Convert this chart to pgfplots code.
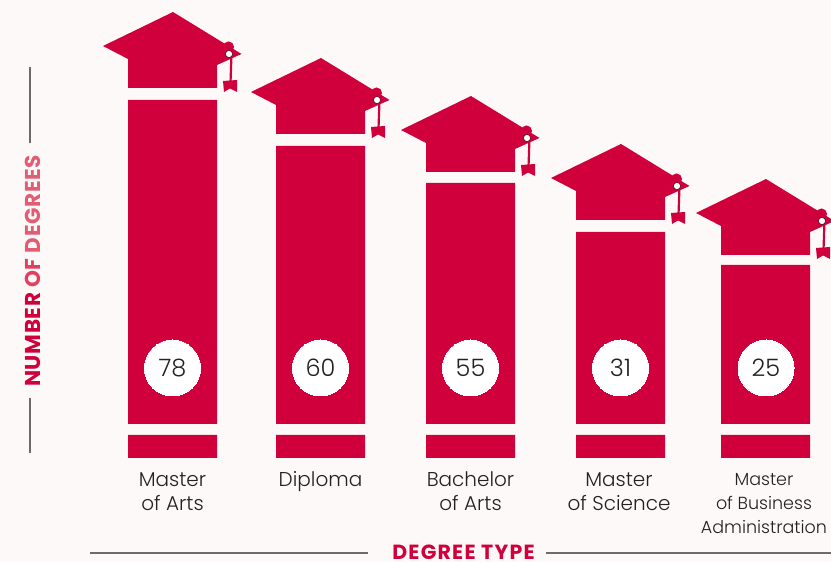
\documentclass[border=0pt]{standalone}
\usepackage{pgfplots}
\usepackage{pgfplotstable}
\usepackage{fontspec}
\pgfplotsset{compat=1.18}
\setmainfont{Poppins}[UprightFont=* Light,BoldFont=* Bold]
\definecolor{bg}{HTML}{FDF9F8}
\definecolor{crim}{HTML}{D0003C}
\definecolor{crimb}{HTML}{E2405F}
\definecolor{crimc}{HTML}{E35C74}
\definecolor{rule}{HTML}{6E6A68}
\definecolor{ink}{HTML}{222222}
% bars: centre x, blank offset below the base, base block, gap, main block (px)
\pgfplotstableread{
x offs base gap main
172.5 104 23 11 324
320.5 104 23 11 278
470.5 104 23 11 241
620.5 104 23 11 192
765.5 104 23 11 159
}\bars
% value badges
\pgfplotstableread{
x y v
172.5 194 78
320.5 194 60
470.5 194 55
620.5 194 31
766 194 25
}\badges
% graduation cap outline, picture pixels
\pgfplotstableread{
x y
173 12
103 46
128 59
128 88
217 88
217 65
241.5 54
}\capshape
\pgfplotstableread{
x y
223 81
237 80
237 92
230 88.5
224 92
}\ribbon
\pgfplotstableread{
x y
231.5 54
230.5 83
}\tassel
\pgfplotstableread{
x y
228.5 47
}\ringpt
\pgfplotstableread{
x y
229 54
}\dotpt
\newcommand{\gradcap}[2]{%
  \addplot[fill=crim,draw=none,forget plot] table[x expr=\thisrow{x}+#1,y expr=562-\thisrow{y}-#2]{\capshape}--cycle;
  \addplot[crim,line width=2.2pt,forget plot] table[x expr=\thisrow{x}+#1,y expr=562-\thisrow{y}-#2]{\tassel};
  \addplot[fill=crim,draw=none,forget plot] table[x expr=\thisrow{x}+#1,y expr=562-\thisrow{y}-#2]{\ribbon}--cycle;
  \addplot[only marks,mark=*,mark size=5pt,mark options={draw=crim,fill=crim,line width=1pt},forget plot] table[x expr=\thisrow{x}+#1,y expr=562-\thisrow{y}-#2]{\ringpt};
  \addplot[only marks,mark=*,mark size=3.5pt,mark options={draw=none,fill=white},forget plot] table[x expr=\thisrow{x}+#1,y expr=562-\thisrow{y}-#2]{\dotpt};
}
\begin{document}
\begin{tikzpicture}[x=1pt,y=1pt]
\useasboundingbox (0,0) rectangle (831,562);
\clip (0,0) rectangle (831,562);
\fill[bg] (0,0) rectangle (831,562);
\begin{axis}[
  at={(0,0)},anchor=south west,
  scale only axis,width=831pt,height=562pt,
  xmin=0,xmax=831,ymin=0,ymax=562,
  hide axis,clip=false,
  ybar stacked,bar width=89pt,
]
\addplot[draw=none,fill=none] table[x=x,y=offs]{\bars};
\addplot[draw=none,fill=crim] table[x=x,y=base]{\bars};
\addplot[draw=none,fill=none] table[x=x,y=gap]{\bars};
\addplot[draw=none,fill=crim] table[x=x,y=main]{\bars};
\end{axis}
\begin{axis}[
  at={(0,0)},anchor=south west,
  scale only axis,width=831pt,height=562pt,
  xmin=0,xmax=831,ymin=0,ymax=562,
  hide axis,clip=false,
]
\gradcap{0}{0}
\gradcap{148}{46}
\gradcap{298}{84}
\gradcap{448}{132}
\gradcap{593}{167}
\addplot[only marks,mark=*,mark size=28pt,mark options={draw=white,fill=white,line width=0pt},
  nodes near coords,point meta=explicit symbolic,
  every node near coord/.append style={anchor=center,font=\fontsize{24}{24}\selectfont,text=ink}]
  table[x=x,y=y,meta=v]{\badges};
% guide rules
\addplot[rule,line width=1.5pt] coordinates {(30,495) (30,419)};
\addplot[rule,line width=1.5pt] coordinates {(30,164) (30,109)};
\addplot[rule,line width=1.5pt] coordinates {(90,9) (368,9)};
\addplot[rule,line width=1.5pt] coordinates {(546,9) (831,9)};
\tikzset{lab/.style={align=center,text=ink,font=\fontsize{20}{24}\selectfont}}
\node[lab] at (axis cs:172.5,70.5) {Master\\of Arts};
\node[lab] at (axis cs:320.5,80.5) {Diploma};
\node[lab] at (axis cs:470.5,70.5) {Bachelor\\of Arts};
\node[lab] at (axis cs:619,70.5) {Master\\of Science};
\node[lab,font=\fontsize{17.5}{24}\selectfont] at (axis cs:764,58) {Master\\of Business\\Administration};
\node[text=crim,font=\fontsize{20.5}{21}\selectfont\bfseries\addfontfeatures{LetterSpace=6}] at (axis cs:463.5,10) {DEGREE TYPE};
\node[rotate=90,font=\fontsize{21.5}{21.5}\selectfont\bfseries\addfontfeatures{LetterSpace=3}] at (axis cs:33,291)
  {\textcolor{crim}{NUMBER} \textcolor{crimb}{OF} \textcolor{crimc}{DEGREES}};
\end{axis}
\end{tikzpicture}
\end{document}
